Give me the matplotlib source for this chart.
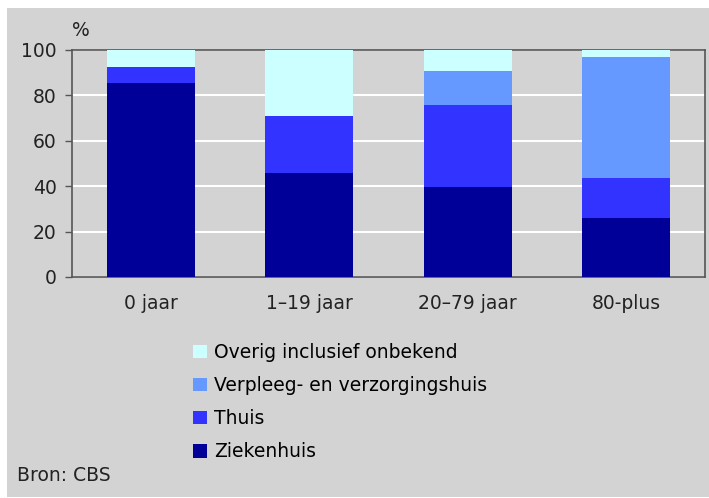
import matplotlib
matplotlib.use('Agg')
import numpy as np
from matplotlib import pyplot as plt
from matplotlib.patches import Rectangle, Patch

categories = ['0 jaar', '1\u201319 jaar', '20\u201379 jaar', '80-plus']
ziekenhuis = [85.6, 45.7, 39.5, 26.1]
thuis = [7.0, 25.2, 36.1, 17.6]
verpleeg = [0.0, 0.0, 15.0, 53.1]
overig = [7.4, 29.1, 9.4, 3.2]

series_names = ['Ziekenhuis', 'Thuis', 'Verpleeg- en verzorgingshuis', 'Overig inclusief onbekend']
colors = ['#000099', '#3333ff', '#6699ff', '#ccffff']

bg = '#d3d3d3'
fs = 13.5
plt.rcParams['font.family'] = ['DejaVu Sans']

fig = plt.figure(figsize=(7.09, 4.98), dpi=100)
fig.patch.set_facecolor('white')
fig.patches.append(Rectangle((7 / 709, 1 / 498), 702 / 709, 489 / 498,
                             transform=fig.transFigure, facecolor=bg, edgecolor='none', zorder=-10))

ax = fig.add_axes([0.1016, 0.4438, 0.8928, 0.4558])
ax.set_facecolor(bg)

x = np.arange(len(categories))
bottom = np.zeros(len(categories))
for vals, name, c in zip([ziekenhuis, thuis, verpleeg, overig], series_names, colors):
    ax.bar(x, vals, width=0.557, bottom=bottom, color=c, label=name, zorder=3)
    bottom += np.array(vals)

ax.set_xlim(-0.5, 3.5)
ax.set_ylim(0, 100)
ax.set_yticks([0, 20, 40, 60, 80, 100])
ax.set_xticks(x)
ax.set_xticklabels(categories, fontsize=fs, color='#222222')
ax.tick_params(axis='x', length=0, pad=12)
ax.tick_params(axis='y', length=5, width=1, color='#555555', labelsize=fs, labelcolor='#222222', pad=6)
ax.yaxis.grid(True, color='white', linewidth=1.5, zorder=1)
for s in ax.spines.values():
    s.set_color('#555555')
    s.set_linewidth(1.2)

ax.text(0.0, 1.045, '%', transform=ax.transAxes, fontsize=fs, color='#222222', ha='left', va='bottom')

handles = [Patch(facecolor=c, edgecolor='none') for c in colors][::-1]
labels = series_names[::-1]
fig.legend(handles, labels, loc='upper left', bbox_to_anchor=(193 / 709, 1 - 343 / 498),
           frameon=False, fontsize=fs, handlelength=0.75, handleheight=0.75,
           handletextpad=0.35, labelspacing=0.75, borderaxespad=0, borderpad=0)

fig.text(17 / 709, 1 - 475 / 498, 'Bron: CBS', fontsize=fs, color='#222222', ha='left', va='center')

fig.savefig('out.png', dpi=100, facecolor=fig.get_facecolor())
